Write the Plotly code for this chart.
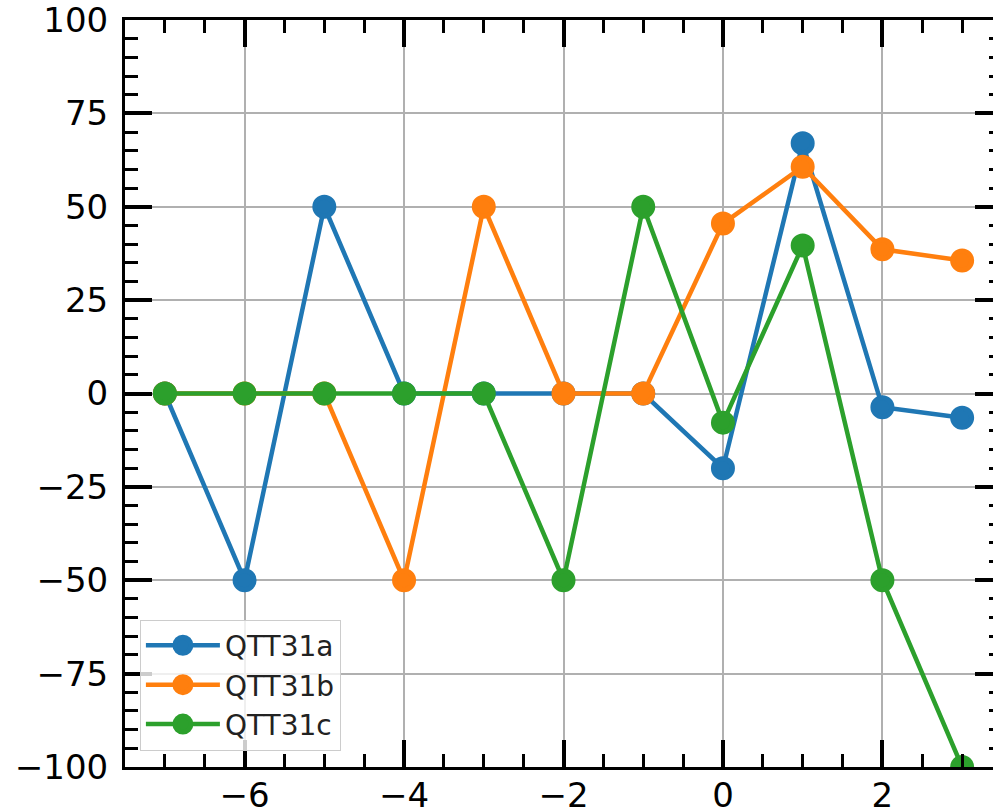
import plotly.graph_objects as go

# Series values per offset
x_vals = [-7, -6, -5, -4, -3, -2, -1, 0, 1, 2, 3]
qtt31a = [0, -50, 50, 0, 0, 0, 0, -20, 67, -3.7, -6.5]
qtt31b = [0, 0, 0, -50, 50, 0, 0, 45.5, 60.7, 38.6, 35.6]
qtt31c = [0, 0, 0, 0, 0, -50, 50, -7.8, 39.6, -50, -100]

series = [
    ("QTT31a", qtt31a, "#1f77b4"),
    ("QTT31b", qtt31b, "#ff7f0e"),
    ("QTT31c", qtt31c, "#2ca02c"),
]

fig = go.Figure()
for name, vals, color in series:
    fig.add_trace(go.Scatter(
        x=x_vals, y=vals, name=name, mode="lines+markers",
        line=dict(color=color, width=4.5),
        marker=dict(color=color, size=19, line=dict(color=color, width=5)),
        cliponaxis=True,
    ))

axis_common = dict(
    showline=True, linecolor="black", linewidth=3, mirror="allticks",
    ticks="inside", ticklen=27, tickwidth=4, tickcolor="black",
    showgrid=True, gridcolor="#b0b0b0", gridwidth=2,
    zeroline=False, automargin=False, ticklabeloverflow="allow",
    tickfont=dict(family="DejaVu Sans", size=34, color="black"),
)

fig.update_xaxes(
    range=[-7.5, 3.5], tick0=0, dtick=2,
    minor=dict(dtick=0.5, ticks="inside", ticklen=13, tickwidth=2.5,
               tickcolor="black", showgrid=False),
    ticklabelstandoff=-4,
    **axis_common,
)
fig.update_yaxes(
    range=[-100, 100], tick0=0, dtick=25,
    minor=dict(dtick=5, ticks="inside", ticklen=13, tickwidth=2.5,
               tickcolor="black", showgrid=False),
    ticklabelstandoff=7,
    **axis_common,
)

fig.update_layout(
    width=1010, height=807,
    margin=dict(l=125, r=8, t=20, b=40, pad=0),
    paper_bgcolor="white", plot_bgcolor="white",
    font=dict(family="DejaVu Sans", color="black"),
    showlegend=True,
    legend=dict(
        x=0.017, y=0.022, xanchor="left", yanchor="bottom",
        bgcolor="rgba(255,255,255,0.8)", bordercolor="#cccccc", borderwidth=1,
        font=dict(family="DejaVu Sans", size=28, color="#222222"),
        itemwidth=74, tracegroupgap=0, itemsizing="trace",
    ),
)

fig.write_html(
    "out.html",
    post_script="document.body.style.overflow='hidden';"
                "document.documentElement.style.overflow='hidden';",
)
